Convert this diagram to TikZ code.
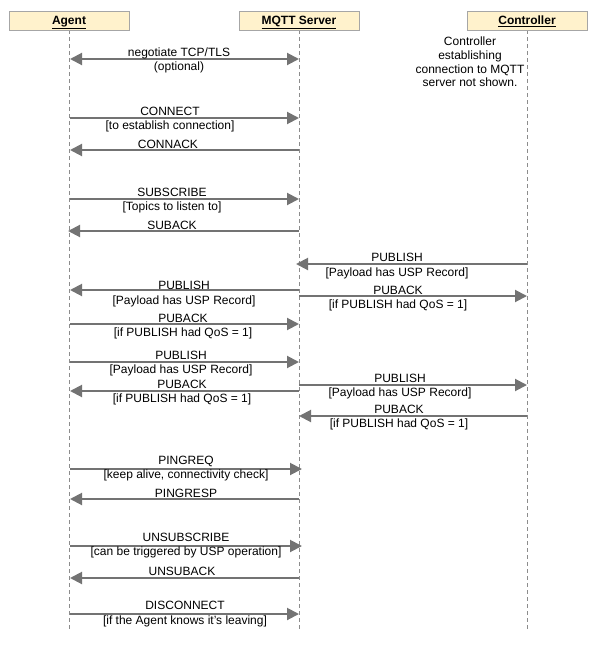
\documentclass[tikz,border=0pt]{standalone}
\usepackage{fontspec}
\setmainfont{Liberation Sans}
\usetikzlibrary{arrows.meta}
\definecolor{hdrfill}{HTML}{FFF2CC}
\definecolor{hdrdraw}{HTML}{A6A6A6}
\definecolor{msgcol}{HTML}{737373}
\definecolor{lifecol}{HTML}{8C8C8C}
\tikzset{
  hdr/.style={draw=hdrdraw, fill=hdrfill, line width=0.8pt, minimum width=120pt, minimum height=19pt, inner sep=0pt},
  hdrtxt/.style={inner sep=0pt, anchor=base, font=\fontsize{12}{14}\selectfont\bfseries},
  life/.style={draw=lifecol, line width=0.9pt, dash pattern=on 4pt off 3pt},
  msg/.style={draw=msgcol, line width=2pt, -{Triangle[length=12pt,width=12pt]}},
  dmsg/.style={draw=msgcol, line width=2pt, {Triangle[length=12pt,width=12pt]}-{Triangle[length=12pt,width=12pt]}},
  lbl/.style={font=\fontsize{12}{14.5}\selectfont, align=center, inner sep=0pt},
}
\begin{document}
\begin{tikzpicture}[x=1pt,y=-1pt]
\useasboundingbox (0,0) rectangle (609,664);
% lifelines
\draw[life] (69,30) -- (69,631);
\draw[life] (299,30) -- (299,631);
\draw[life] (527,30) -- (527,631);
% headers
\node[hdr] (ag) at (69,20.5) {};
\node[hdr] (mq) at (299,20.5) {};
\node[hdr] (ct) at (527,20.5) {};
\node[hdrtxt] (agt) at (69,24.5) {\underline{Agent}};
\node[hdrtxt] (mqt) at (299,24.5) {\underline{MQTT Server}};
\node[hdrtxt] (ctt) at (527,24.5) {\underline{Controller}};
% note
\node[lbl, font=\fontsize{12}{13.7}\selectfont] (note) at (470,62) {Controller\\establishing\\connection to MQTT\\server not shown.};
% coordinates
\foreach \n/\y in {1/59,2/118,3/150,4/199,5/231,6/264,7/290,8/296,9/324,10/362,11/391,12/385,13/416,14/469,15/499,16/546,17/578,18/614}{
  \coordinate (A\n) at (70,\y);
  \coordinate (M\n) at (299,\y);
  \coordinate (C\n) at (527,\y);
}
\coordinate (M6t) at (296,264);
\coordinate (M14t) at (302,469);
\coordinate (M16t) at (302,546);
\coordinate (A5t) at (68,231);
% messages
\draw[dmsg] (A1) -- (M1);
\node[lbl] (l1) at (179,60.5) {negotiate TCP/TLS\\(optional)};
\draw[msg] (A2) -- (M2);
\node[lbl] (l2) at (170,119.5) {CONNECT\\{[}to establish connection{]}};
\draw[msg] (M3) -- (A3);
\node[lbl] (l3) at (168,144) {CONNACK};
\draw[msg] (A4) -- (M4);
\node[lbl] (l4) at (172,200.5) {SUBSCRIBE\\{[}Topics to listen to{]}};
\draw[msg] (M5) -- (A5t);
\node[lbl] (l5) at (172,225) {SUBACK};
\draw[msg] (C6) -- (M6t);
\node[lbl] (l6) at (397,266) {PUBLISH\\{[}Payload has USP Record{]}};
\draw[msg] (M7) -- (A7);
\node[lbl] (l7) at (184,294) {PUBLISH\\{[}Payload has USP Record{]}};
\draw[msg] (M8) -- (C8);
\node[lbl] (l8) at (398,298.5) {PUBACK\\{[}if PUBLISH had QoS = 1{]}};
\draw[msg] (A9) -- (M9);
\node[lbl] (l9) at (183,326.5) {PUBACK\\{[}if PUBLISH had QoS = 1{]}};
\draw[msg] (A10) -- (M10);
\node[lbl] (l10) at (181,363.5) {PUBLISH\\{[}Payload has USP Record{]}};
\draw[msg] (M11) -- (A11);
\node[lbl] (l11) at (182,392.5) {PUBACK\\{[}if PUBLISH had QoS = 1{]}};
\draw[msg] (M12) -- (C12);
\node[lbl] (l12) at (400,386.5) {PUBLISH\\{[}Payload has USP Record{]}};
\draw[msg] (C13) -- (M13);
\node[lbl] (l13) at (399,417.5) {PUBACK\\{[}if PUBLISH had QoS = 1{]}};
\draw[msg] (A14) -- (M14t);
\node[lbl] (l14) at (186,468.5) {PINGREQ\\{[}keep alive, connectivity check{]}};
\draw[msg] (M15) -- (A15);
\node[lbl] (l15) at (186,493.5) {PINGRESP};
\draw[msg] (A16) -- (M16t);
\node[lbl] (l16) at (186,545.5) {UNSUBSCRIBE\\{[}can be triggered by USP operation{]}};
\draw[msg] (M17) -- (A17);
\node[lbl] (l17) at (182,571.5) {UNSUBACK};
\draw[msg] (A18) -- (M18);
\node[lbl] (l18) at (185,614) {DISCONNECT\\{[}if the Agent knows it's leaving{]}};
\end{tikzpicture}
\end{document}
